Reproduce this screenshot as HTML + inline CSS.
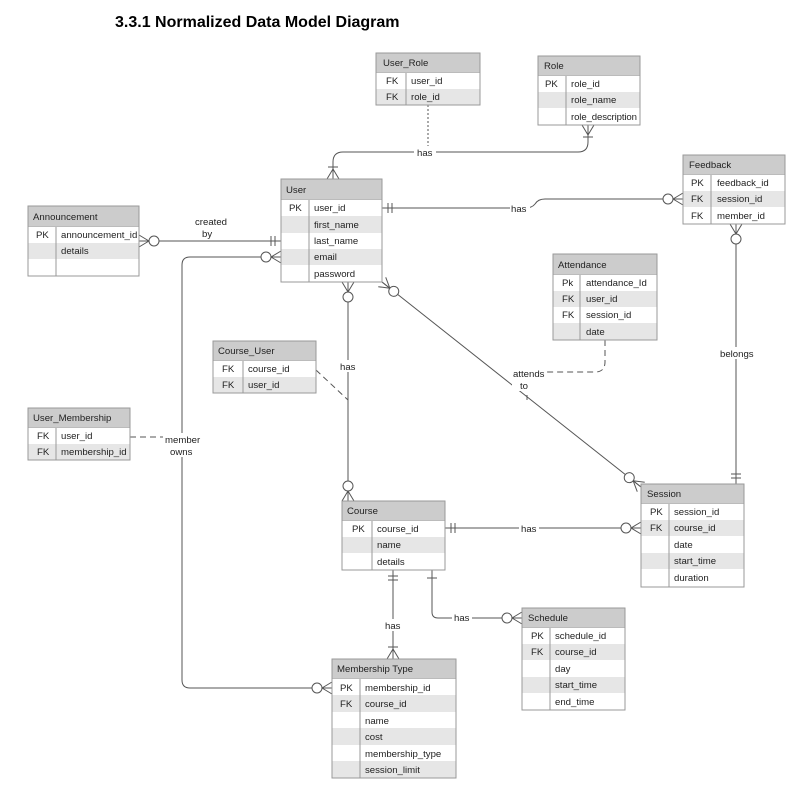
<!DOCTYPE html>
<html><head><meta charset="utf-8"><style>
body{margin:0;background:#fff;}
svg{display:block;font-family:"Liberation Sans",Arial,sans-serif;}
text{font-size:9.6px;fill:#222;}
.h{fill:#cccccc;stroke:#aaa;stroke-width:1}
.w{fill:#fff}.g{fill:#e6e6e6}
.b{fill:none;stroke:#999;stroke-width:1}
.l{fill:none;stroke:#555;stroke-width:1}
.d{fill:none;stroke:#555;stroke-width:1;stroke-dasharray:6 4}
.dot{fill:none;stroke:#555;stroke-width:1;stroke-dasharray:2 2}
.lb{fill:#fff}
</style></head><body>
<svg width="809" height="788" viewBox="0 0 809 788">
<defs>
<g id="cf"><path class="l" d="M-10 0L0 -6M-10 0L0 0M-10 0L0 6"/><circle cx="-15" cy="0" r="5" fill="#fff" stroke="#555"/></g>
<g id="cr"><path class="l" d="M-10 0L0 -6M-10 0L0 0M-10 0L0 6M-12 -5L-12 5"/></g>
<g id="mm"><path class="l" d="M-6 -5L-6 5M-10 -5L-10 5"/></g>
<g id="one"><path class="l" d="M-8 -5L-8 5"/></g>
</defs>
<text x="115" y="27" style="font-size:16px;font-weight:bold;fill:#000">3.3.1 Normalized Data Model Diagram</text>

<path class="l" d="M588 125V142Q588 152 578 152H343Q333 152 333 162V179"/>
<path class="dot" d="M428 105V152"/>
<rect class="lb" x="414" y="146" width="22" height="11"/><text x="417" y="156">has</text>

<path class="l" d="M382 208H525Q532 208 535 204Q538 199 545 199H683"/>
<rect class="lb" x="510" y="202" width="20" height="11"/><text x="511" y="212">has</text>

<path class="l" d="M139 241H281"/>
<text x="195" y="225">created</text><text x="202" y="237">by</text>

<path class="l" d="M281 257H190Q182 257 182 265V680Q182 688 190 688H332"/>
<path class="d" d="M130 437H165"/>
<rect class="lb" x="163" y="433" width="38" height="24"/>
<text x="165" y="443">member</text><text x="170" y="455">owns</text>

<path class="l" d="M348 282V501"/>
<rect class="lb" x="338" y="360" width="20" height="12"/><text x="340" y="370">has</text>
<path class="d" d="M316 370L348 400"/>

<path class="l" d="M382 282L641 487"/>
<path class="d" d="M605 340V362Q605 372 595 372H545M527 385V400"/>
<rect class="lb" x="512" y="369" width="32" height="22"/>
<text x="513" y="377">attends</text><text x="520" y="389">to</text>

<path class="l" d="M736 224V484"/>
<rect class="lb" x="718" y="347" width="36" height="12"/><text x="720" y="357">belongs</text>

<path class="l" d="M445 528H641"/>
<rect class="lb" x="519" y="522" width="20" height="11"/><text x="521" y="532">has</text>

<path class="l" d="M393 570V659"/>
<rect class="lb" x="383" y="619" width="20" height="12"/><text x="385" y="629">has</text>

<path class="l" d="M432 570V612Q432 618 438 618H522"/>
<rect class="lb" x="452" y="612" width="20" height="11"/><text x="454" y="621">has</text>

<use href="#cr" transform="translate(588,125) rotate(-90)"/>
<use href="#cr" transform="translate(333,179) rotate(90)"/>
<use href="#mm" transform="translate(382,208) rotate(180)"/>
<use href="#cf" transform="translate(683,199)"/>
<use href="#cf" transform="translate(139,241) rotate(180)"/>
<use href="#mm" transform="translate(281,241)"/>
<use href="#cf" transform="translate(281,257)"/>
<use href="#cf" transform="translate(332,688)"/>
<use href="#cf" transform="translate(348,282) rotate(-90)"/>
<use href="#cf" transform="translate(348,501) rotate(90)"/>
<use href="#cf" transform="translate(382,282) rotate(218.4)"/>
<use href="#cf" transform="translate(641,487) rotate(38.4)"/>
<use href="#cf" transform="translate(736,224) rotate(-90)"/>
<use href="#mm" transform="translate(736,484) rotate(90)"/>
<use href="#mm" transform="translate(445,528) rotate(180)"/>
<use href="#cf" transform="translate(641,528)"/>
<use href="#mm" transform="translate(393,570) rotate(-90)"/>
<use href="#cr" transform="translate(393,659) rotate(90)"/>
<use href="#one" transform="translate(432,570) rotate(-90)"/>
<use href="#cf" transform="translate(522,618)"/>

<rect class="h" x="376" y="53" width="104" height="20"/><text x="383" y="66">User_Role</text>
<rect class="w" x="376" y="73" width="104" height="16"/><rect class="g" x="376" y="89" width="104" height="16"/>
<rect class="b" x="376" y="53" width="104" height="52"/><path class="b" d="M406 73V105"/>
<text x="386" y="84">FK</text><text x="411" y="84">user_id</text>
<text x="386" y="100">FK</text><text x="411" y="100">role_id</text>

<rect class="h" x="538" y="56" width="102" height="20"/><text x="544" y="69">Role</text>
<rect class="w" x="538" y="76" width="102" height="16"/><rect class="g" x="538" y="92" width="102" height="16"/><rect class="w" x="538" y="108" width="102" height="17"/>
<rect class="b" x="538" y="56" width="102" height="69"/><path class="b" d="M566 76V125"/>
<text x="545" y="87">PK</text><text x="571" y="87">role_id</text>
<text x="571" y="103">role_name</text><text x="571" y="120" textLength="66">role_description</text>

<rect class="h" x="683" y="155" width="102" height="20"/><text x="689" y="168">Feedback</text>
<rect class="w" x="683" y="175" width="102" height="16"/><rect class="g" x="683" y="191" width="102" height="16"/><rect class="w" x="683" y="207" width="102" height="17"/>
<rect class="b" x="683" y="155" width="102" height="69"/><path class="b" d="M711 175V224"/>
<text x="691" y="186">PK</text><text x="717" y="186">feedback_id</text>
<text x="691" y="202">FK</text><text x="717" y="202">session_id</text>
<text x="691" y="219">FK</text><text x="717" y="219">member_id</text>

<rect class="h" x="281" y="179" width="101" height="21"/><text x="286" y="193">User</text>
<rect class="w" x="281" y="200" width="101" height="16"/><rect class="g" x="281" y="216" width="101" height="17"/><rect class="w" x="281" y="233" width="101" height="16"/><rect class="g" x="281" y="249" width="101" height="16"/><rect class="w" x="281" y="265" width="101" height="17"/>
<rect class="b" x="281" y="179" width="101" height="103"/><path class="b" d="M309 200V282"/>
<text x="289" y="211">PK</text><text x="314" y="211">user_id</text>
<text x="314" y="228">first_name</text><text x="314" y="244">last_name</text>
<text x="314" y="260">email</text><text x="314" y="277">password</text>

<rect class="h" x="28" y="206" width="111" height="21"/><text x="33" y="220">Announcement</text>
<rect class="w" x="28" y="227" width="111" height="16"/><rect class="g" x="28" y="243" width="111" height="16"/><rect class="w" x="28" y="259" width="111" height="17"/>
<rect class="b" x="28" y="206" width="111" height="70"/><path class="b" d="M56 227V276"/>
<text x="36" y="238">PK</text><text x="61" y="238">announcement_id</text>
<text x="61" y="254">details</text>

<rect class="h" x="553" y="254" width="104" height="21"/><text x="558" y="268">Attendance</text>
<rect class="w" x="553" y="275" width="104" height="16"/><rect class="g" x="553" y="291" width="104" height="16"/><rect class="w" x="553" y="307" width="104" height="16"/><rect class="g" x="553" y="323" width="104" height="17"/>
<rect class="b" x="553" y="254" width="104" height="86"/><path class="b" d="M580 275V340"/>
<text x="562" y="286">Pk</text><text x="586" y="286">attendance_Id</text>
<text x="562" y="302">FK</text><text x="586" y="302">user_id</text>
<text x="562" y="318">FK</text><text x="586" y="318">session_id</text>
<text x="586" y="335">date</text>

<rect class="h" x="213" y="341" width="103" height="20"/><text x="218" y="354">Course_User</text>
<rect class="w" x="213" y="361" width="103" height="16"/><rect class="g" x="213" y="377" width="103" height="16"/>
<rect class="b" x="213" y="341" width="103" height="52"/><path class="b" d="M243 361V393"/>
<text x="222" y="372">FK</text><text x="248" y="372">course_id</text>
<text x="222" y="388">FK</text><text x="248" y="388">user_id</text>

<rect class="h" x="28" y="408" width="102" height="20"/><text x="33" y="421">User_Membership</text>
<rect class="w" x="28" y="428" width="102" height="16"/><rect class="g" x="28" y="444" width="102" height="16"/>
<rect class="b" x="28" y="408" width="102" height="52"/><path class="b" d="M56 428V460"/>
<text x="37" y="439">FK</text><text x="61" y="439">user_id</text>
<text x="37" y="455">FK</text><text x="61" y="455">membership_id</text>

<rect class="h" x="342" y="501" width="103" height="20"/><text x="347" y="514">Course</text>
<rect class="w" x="342" y="521" width="103" height="16"/><rect class="g" x="342" y="537" width="103" height="16"/><rect class="w" x="342" y="553" width="103" height="17"/>
<rect class="b" x="342" y="501" width="103" height="69"/><path class="b" d="M372 521V570"/>
<text x="352" y="532">PK</text><text x="377" y="532">course_id</text>
<text x="377" y="548">name</text><text x="377" y="565">details</text>

<rect class="h" x="641" y="484" width="103" height="20"/><text x="647" y="497">Session</text>
<rect class="w" x="641" y="504" width="103" height="16"/><rect class="g" x="641" y="520" width="103" height="16"/><rect class="w" x="641" y="536" width="103" height="17"/><rect class="g" x="641" y="553" width="103" height="16"/><rect class="w" x="641" y="569" width="103" height="18"/>
<rect class="b" x="641" y="484" width="103" height="103"/><path class="b" d="M669 504V587"/>
<text x="650" y="515">PK</text><text x="674" y="515">session_id</text>
<text x="650" y="531">FK</text><text x="674" y="531">course_id</text>
<text x="674" y="548">date</text><text x="674" y="564">start_time</text><text x="674" y="581">duration</text>

<rect class="h" x="522" y="608" width="103" height="20"/><text x="528" y="621">Schedule</text>
<rect class="w" x="522" y="628" width="103" height="16"/><rect class="g" x="522" y="644" width="103" height="16"/><rect class="w" x="522" y="660" width="103" height="17"/><rect class="g" x="522" y="677" width="103" height="16"/><rect class="w" x="522" y="693" width="103" height="17"/>
<rect class="b" x="522" y="608" width="103" height="102"/><path class="b" d="M550 628V710"/>
<text x="531" y="639">PK</text><text x="555" y="639">schedule_id</text>
<text x="531" y="655">FK</text><text x="555" y="655">course_id</text>
<text x="555" y="672">day</text><text x="555" y="688">start_time</text><text x="555" y="705">end_time</text>

<rect class="h" x="332" y="659" width="124" height="20"/><text x="337" y="672">Membership Type</text>
<rect class="w" x="332" y="679" width="124" height="16"/><rect class="g" x="332" y="695" width="124" height="17"/><rect class="w" x="332" y="712" width="124" height="16"/><rect class="g" x="332" y="728" width="124" height="17"/><rect class="w" x="332" y="745" width="124" height="16"/><rect class="g" x="332" y="761" width="124" height="17"/>
<rect class="b" x="332" y="659" width="124" height="119"/><path class="b" d="M360 679V778"/>
<text x="340" y="691">PK</text><text x="365" y="691">membership_id</text>
<text x="340" y="707">FK</text><text x="365" y="707">course_id</text>
<text x="365" y="724">name</text><text x="365" y="740">cost</text>
<text x="365" y="757">membership_type</text><text x="365" y="773">session_limit</text>
</svg>
</body></html>
